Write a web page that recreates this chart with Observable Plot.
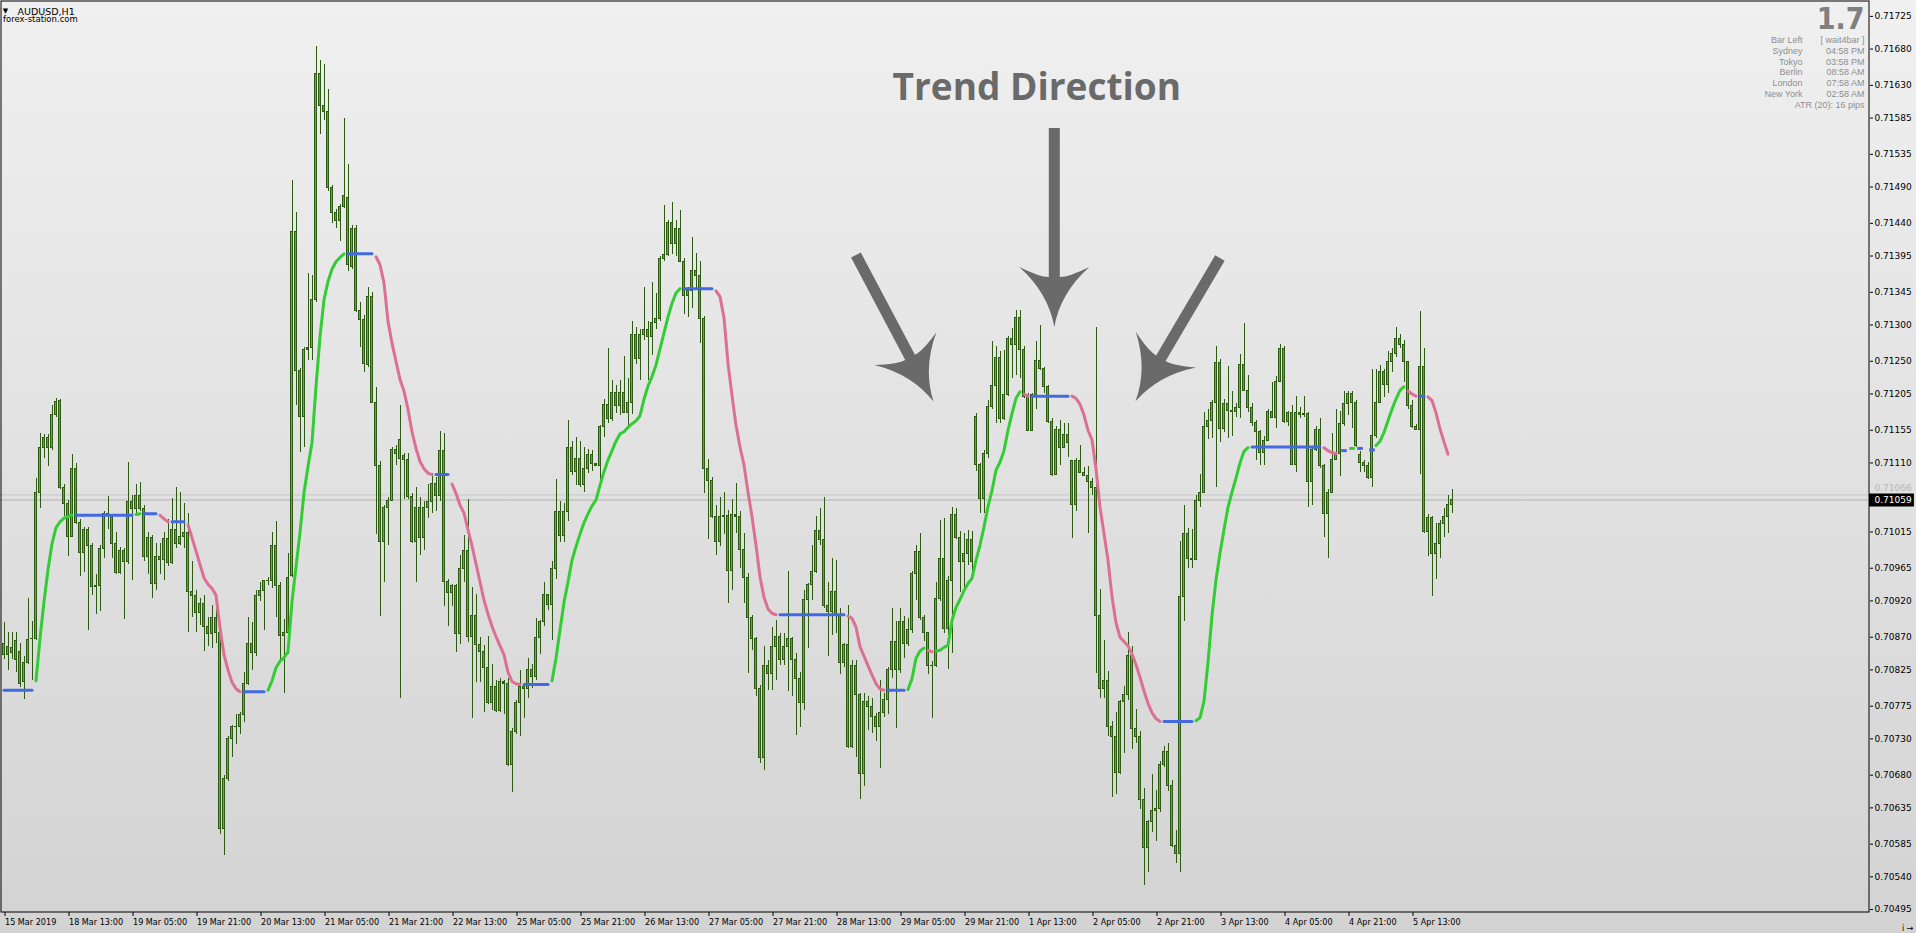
<!DOCTYPE html>
<html>
<head>
<meta charset="utf-8">
<script src="https://cdn.jsdelivr.net/npm/d3@7"></script>
<script src="https://cdn.jsdelivr.net/npm/@observablehq/plot@0.6"></script>
<style>
  html, body { margin:0; padding:0; }
  body { width:1916px; height:933px; overflow:hidden; background: linear-gradient(to bottom, #f0f0f0 0%, #d3d3d3 100%); }
  #chart svg { display:block; }
</style>
</head>
<body>
<div id="chart"></div>
<script>
// ---- DATA (prices stored as points above 0.70000, 1 point = 0.00001) ----
const opens = [
846,857,848,865,850,808,834,867,868,1069,
1131,1144,1131,1176,1196,1076,1054,1008,1102,1027,
986,1018,996,939,941,992,1040,1036,999,959,
989,974,1056,1047,1065,1047,981,1007,943,981,
976,1005,972,1018,999,1008,1014,932,927,903,
916,884,874,897,876,606,675,730,746,747,
763,806,861,848,927,934,947,948,996,940,
872,876,954,1428,1236,1173,1266,1268,1335,1645,
1601,1594,1488,1454,1443,1462,1475,1380,1432,1319,
1307,1245,1339,1193,1106,1001,1048,1058,1128,1116,
1120,1114,1063,1001,1048,1007,1048,1056,1081,1065,
1127,946,931,940,875,964,989,870,899,859,
849,827,780,802,769,808,806,694,740,780,
802,799,825,815,869,891,928,914,964,1043,
1010,1043,1131,1098,1116,1079,1102,1121,1108,1106,
1159,1190,1170,1207,1188,1207,1179,1193,1286,1253,
1286,1293,1284,1303,1308,1391,1397,1441,1411,1432,
1387,1340,1347,1375,1367,1308,1102,1085,1036,1001,
1036,1037,961,1038,1036,990,952,897,868,799,
704,831,820,857,871,839,857,867,839,812,
780,921,942,960,1016,1004,913,905,932,900,
834,859,719,831,790,682,781,774,760,746,
766,783,825,864,825,891,861,880,957,988,
897,876,831,830,923,978,882,948,1038,1007,
974,985,1004,1173,1107,1060,1123,1187,1216,1255,
1170,1203,1281,1272,1309,1266,1201,1154,1203,1250,
1240,1214,1166,1094,1156,1131,1149,1113,1052,1113,
1096,1092,1084,1075,899,799,810,746,733,683,
781,791,844,744,733,646,580,615,630,634,
694,712,665,583,572,926,1012,978,977,1057,
1069,1160,1168,1192,1247,1157,1191,1181,1180,1186,
1245,1209,1186,1165,1152,1124,1140,1180,1172,1222,
1267,1166,1179,1107,1179,1176,1177,1084,1128,1156,
1106,1040,1069,1114,1123,1163,1191,1205,1192,1121,
1110,1106,1089,1147,1193,1235,1217,1249,1260,1281,
1272,1249,1188,1160,1156,1242,1015,1034,985,999,
1026,1036,1052];
const highs = [
890,876,877,876,861,843,924,892,1088,1151,
1149,1149,1189,1199,1198,1080,1058,1122,1109,1032,
1021,1021,999,956,996,1043,1064,1036,1014,994,
992,1110,1065,1080,1083,1051,1014,1010,999,999,
1014,1032,1061,1076,1069,1054,1040,974,934,923,
928,897,914,908,886,679,733,748,763,766,
821,897,890,934,945,948,952,1014,1029,945,
894,985,1499,1455,1240,1269,1371,1368,1683,1664,
1659,1625,1492,1459,1466,1584,1521,1437,1437,1331,
1313,1352,1345,1214,1112,1051,1062,1131,1134,1189,
1123,1123,1068,1076,1062,1057,1081,1095,1090,1153,
1150,949,943,943,982,1010,1059,938,929,870,
858,871,833,810,813,810,813,744,783,824,
805,841,833,896,893,946,929,974,1087,1057,
1054,1168,1140,1145,1140,1131,1128,1127,1109,1162,
1198,1267,1223,1217,1224,1256,1227,1305,1297,1294,
1352,1305,1358,1343,1394,1465,1444,1469,1444,1458,
1391,1352,1420,1399,1388,1312,1115,1090,1051,1062,
1070,1045,1059,1082,1043,1013,958,900,870,804,
857,838,884,893,875,875,961,870,847,821,
935,944,997,1036,1047,1063,946,978,976,909,
861,914,838,838,792,792,788,786,765,811,
792,829,909,891,909,898,896,960,997,1013,
900,877,836,946,1031,1033,953,1049,1047,1015,
1013,1017,1015,1178,1109,1127,1196,1277,1270,1263,
1265,1284,1295,1320,1320,1270,1205,1205,1277,1300,
1242,1216,1171,1160,1169,1164,1164,1114,1116,1134,
1104,1105,1089,1296,936,865,823,754,767,783,
802,876,857,770,740,662,617,681,659,699,
720,723,673,604,1002,1052,1020,1018,1065,1094,
1179,1184,1196,1271,1252,1198,1243,1208,1192,1260,
1302,1231,1192,1168,1155,1147,1184,1221,1229,1273,
1270,1181,1189,1202,1186,1202,1180,1131,1160,1171,
1108,1073,1150,1184,1181,1208,1208,1209,1196,1126,
1114,1110,1239,1239,1244,1239,1263,1268,1296,1287,
1279,1250,1196,1163,1319,1267,1039,1036,1026,1031,
1047,1065,1073];
const lows = [
839,824,839,821,801,784,832,810,865,1047,
1116,1105,1127,1173,1074,1036,981,1007,1025,954,
959,879,927,901,905,978,1018,978,956,957,
894,970,948,1036,1043,974,956,923,934,956,
948,967,970,992,996,992,876,897,876,886,
850,857,854,861,599,569,671,704,722,736,
752,803,824,843,919,879,941,937,897,839,
792,846,952,1189,1125,1131,1251,1251,1331,1562,
1581,1484,1440,1433,1415,1460,1373,1377,1317,1269,
1234,1242,1192,1012,899,946,996,1057,1106,786,
1059,1059,999,946,982,990,1034,1040,1043,1057,
913,885,913,849,860,946,863,758,808,808,
766,777,769,766,766,763,692,656,736,733,
758,786,799,810,846,885,907,866,949,1001,
1001,1029,1093,1079,1076,1070,1095,1098,1105,1079,
1145,1164,1167,1178,1175,1178,1162,1177,1245,1223,
1278,1223,1258,1294,1305,1388,1394,1397,1394,1386,
1314,1311,1323,1350,1275,1068,1004,1034,982,995,
1012,916,935,1013,964,916,820,852,788,696,
687,797,797,811,831,831,795,788,735,746,
769,854,921,958,997,909,843,873,875,818,
829,717,717,705,646,664,742,737,726,689,
760,763,813,744,820,841,857,875,921,893,
864,818,758,829,919,875,825,847,1004,932,
937,969,948,1098,1040,1040,1116,1183,1165,1164,
1169,1201,1226,1231,1226,1199,1153,1153,1183,1238,
1205,1164,1091,1093,1107,1130,1118,1006,1043,1095,
1091,1013,1065,820,786,786,733,649,654,681,
710,783,715,723,633,528,546,601,588,628,
691,657,580,559,546,891,965,965,976,1049,
1068,1142,1144,1076,1138,1152,1144,1147,1173,1171,
1208,1179,1160,1113,1107,1106,1139,1171,1157,1221,
1165,1160,1106,1097,1171,1173,1049,1052,1126,1102,
1007,978,1068,1113,1092,1160,1176,1157,1131,1097,
1097,1087,1076,1144,1192,1200,1205,1234,1255,1268,
1221,1184,1157,1155,1094,1013,981,926,949,978,
1008,1013,1040];
const closes = [
861,846,855,838,806,835,866,868,1069,1131,
1144,1131,1176,1194,1076,1054,1008,1102,1027,986,
1018,996,939,941,992,1040,1037,999,959,989,
974,1056,1047,1065,1047,981,1007,943,981,976,
1005,972,1018,999,1008,1014,932,927,903,916,
884,874,897,876,606,675,730,746,747,763,
806,861,848,927,934,947,948,996,940,872,
876,952,1428,1236,1173,1266,1268,1335,1645,1601,
1594,1488,1454,1443,1462,1477,1382,1432,1319,1307,
1246,1339,1193,1106,1001,1048,1058,1128,1122,1142,
1114,1063,1001,1048,1007,1048,1056,1081,1065,1127,
946,931,940,875,964,989,870,899,859,849,
827,780,802,769,808,806,694,740,780,802,
799,825,815,869,891,928,914,964,1043,1010,
1043,1131,1098,1116,1079,1102,1121,1108,1106,1159,
1190,1170,1207,1188,1207,1179,1193,1286,1253,1286,
1293,1284,1303,1308,1391,1397,1441,1411,1432,1387,
1340,1347,1375,1367,1308,1102,1085,1036,1001,1036,
1037,961,1038,1036,990,952,897,868,799,704,
831,820,857,871,839,857,867,839,812,780,
921,942,960,1016,1004,913,905,932,900,834,
859,719,831,790,682,781,774,760,746,766,
783,825,864,825,891,861,880,957,988,897,
876,831,830,923,978,882,948,1038,1007,974,
985,1004,974,1107,1060,1123,1187,1216,1255,1170,
1203,1281,1272,1309,1266,1201,1154,1203,1250,1240,
1214,1166,1094,1156,1131,1149,1138,1052,1113,1096,
1092,1084,1075,899,799,810,746,733,683,781,
791,844,744,733,646,580,615,630,634,694,
712,665,583,572,926,1012,978,977,1057,1069,
1160,1168,1192,1247,1157,1191,1181,1180,1186,1245,
1209,1186,1165,1152,1124,1140,1180,1172,1222,1267,
1166,1179,1107,1179,1176,1177,1084,1128,1156,1106,
1040,1069,1114,1123,1163,1191,1205,1192,1133,1110,
1106,1089,1147,1193,1235,1217,1249,1260,1281,1272,
1249,1188,1160,1156,1242,1015,1034,985,999,1026,
1036,1052,1059];

// Trend Direction indicator: [state, first bar, values]  U = up (green), D = down (pink), F = flat (blue)
const trendSegments = [
  ["F", 0, [797,797,797,797,797,797,797,797]],
  ["U", 8, [810,868,919,963,999,1021,1029,1034,1036,1038]],
  ["F", 18, [1038,1038,1038,1038,1038,1038,1038,1038,1038,1038,1038,1038,1038,1038,1038]],
  ["U", 33, [1039,1040]],
  ["F", 35, [1040,1040,1040,1040]],
  ["D", 39, [1038,1033,1029]],
  ["F", 42, [1029,1029,1029,1029]],
  ["D", 46, [1025,1007,989,970,952,943,937,928,883,846,825,808,799,795]],
  ["F", 60, [795,795,795,795,795,795]],
  ["U", 66, [797,810,828,837,842,850,919,967,1014,1069,1105,1138,1215,1284,1335,1360,1377,1387,1393,1398]],
  ["F", 86, [1398,1398,1398,1398,1398,1398,1398]],
  ["D", 93, [1394,1383,1358,1305,1275,1250,1225,1209,1184,1153,1130,1112,1102,1096,1094]],
  ["F", 108, [1094,1094,1094,1094]],
  ["D", 112, [1081,1068,1052,1041,1018,996,971,946,921,902,885,871,858,846,822,809,806,805]],
  ["F", 130, [805,805,805,805,805,805,805]],
  ["U", 137, [810,841,880,918,946,976,995,1012,1028,1040,1051,1059,1079,1098,1114,1127,1140,1150,1153,1159,1164,1168,1175,1198,1216,1229,1245,1267,1289,1311,1330,1344,1350]],
  ["F", 170, [1350,1350,1350,1350,1350,1350,1350,1350]],
  ["D", 178, [1347,1339,1310,1247,1203,1162,1132,1107,1070,1036,997,953,925,909,903,901]],
  ["F", 194, [901,901,901,901,901,901,901,901,901,901,901,901,901,901,901,901,901]],
  ["D", 211, [899,896,884,857,844,831,818,806,799,797]],
  ["F", 221, [797,797,797,797,797]],
  ["U", 226, [798,813,841,851,855]],
  ["D", 231, [852,850]],
  ["U", 233, [851,852,856,859,893,911,922,934,944,951,976,997,1022,1050,1072,1100,1111,1127,1155,1178,1199,1208]],
  ["D", 255, [1205,1202]],
  ["F", 257, [1202,1202,1202,1202,1202,1202,1202,1202,1202,1202]],
  ["D", 267, [1202,1199,1191,1176,1155,1142,1102,1049,1013,976,926,890,870,864,858,847,832,815,796,779,766,758,754]],
  ["F", 290, [754,754,754,754,754,754,754,754]],
  ["U", 298, [755,759,782,835,900,949,986,1018,1049,1070,1089,1110,1126,1131]],
  ["F", 312, [1132,1132,1132,1132,1132,1132,1132,1132,1132,1132,1132,1132,1132,1132,1132,1132,1132,1132]],
  ["D", 330, [1131,1127,1124,1123]],
  ["F", 335, [1127]],
  ["U", 337, [1130]],
  ["F", 339, [1130]],
  ["F", 342, [1128]],
  ["U", 343, [1134,1140,1152,1168,1184,1198,1210,1215]],
  ["D", 351, [1209,1205,1202]],
  ["F", 354, [1202,1202]],
  ["D", 356, [1201,1196,1179,1157,1139,1122]]
];

const priceTicks = [0.71725,0.71680,0.71630,0.71585,0.71535,0.71490,0.71440,0.71395,0.71345,0.71300,0.71250,0.71205,0.71155,0.71110,
                    0.71015,0.70965,0.70920,0.70870,0.70825,0.70775,0.70730,0.70680,0.70635,0.70585,0.70540,0.70495];
const timeTickBars = [0,16,32,48,64,80,96,112,128,144,160,176,192,208,224,240,256,272,288,304,320,336,352];
const timeTickLabels = ["15 Mar 2019","18 Mar 13:00","19 Mar 05:00","19 Mar 21:00","20 Mar 13:00","21 Mar 05:00","21 Mar 21:00",
  "22 Mar 13:00","25 Mar 05:00","25 Mar 21:00","26 Mar 13:00","27 Mar 05:00","27 Mar 21:00","28 Mar 13:00","29 Mar 05:00",
  "29 Mar 21:00","1 Apr 13:00","2 Apr 05:00","2 Apr 21:00","3 Apr 13:00","4 Apr 05:00","4 Apr 21:00","5 Apr 13:00"];
const bidPrice = 0.71059, askPrice = 0.71066;
const symbolLabel = "AUDUSD,H1";
const siteLabel = "forex-station.com";
const spreadValue = "1.7";
const infoLabels = ["Bar Left","Sydney","Tokyo","Berlin","London","New York"];
const infoValues = ["[ wait4bar ]","04:58 PM","03:58 PM","08:58 AM","07:58 AM","02:58 AM"];
const atrLabel = "ATR (20): 16 pips";
const annotationTitle = "Trend Direction";
// arrows: tail and tip in (bar, price)
const arrows = [
  {tailBar: 213.1, tailPrice: 0.713957, tipBar: 232.5, tipPrice: 0.711939},
  {tailBar: 262.7, tailPrice: 0.715706, tipBar: 262.7, tipPrice: 0.712966},
  {tailBar: 304.1, tailPrice: 0.713916, tipBar: 283.0, tipPrice: 0.711942}
];

// ---- BUILD ----
const base = 0.7, unit = 1e5;
const bars = opens.map((o, i) => {
  const O = base + o / unit, C = base + closes[i] / unit;
  const Hh = Math.max(base + highs[i] / unit, O, C), Ll = Math.min(base + lows[i] / unit, O, C);
  return {i, o: O, h: Hh, l: Ll, c: C, up: C >= O};
});
const trendRows = [];
trendSegments.forEach(([state, start, vals], s) =>
  vals.forEach((v, k) => trendRows.push({i: start + k, p: base + v / unit, state, seg: s, n: vals.length})));
const trendColors = {U: "#32cd32", D: "#db7093", F: "#4169e1"};
const tickLabelMap = new Map(timeTickBars.map((b, k) => [b, timeTickLabels[k]]));

const outline = "#2c5a12", bullFill = "#32cd32", bearFill = "#e0663f";
const annotGray = "#6a6a6a", infoGray = "#8e8e8e";
const pxPerPrice = 912 / (0.717469 - 0.704909);

function arrowMark(index, scales) {
  try {
    const sx = scales.x, sy = scales.y;
    const g = document.createElementNS("http://www.w3.org/2000/svg", "g");
    const shaft = 5.5, headLen = 60, headHalf = 35, notch = 50;
    for (const a of arrows) {
      const x0 = sx(a.tailBar), y0 = sy(a.tailPrice), x1 = sx(a.tipBar), y1 = sy(a.tipPrice);
      const len = Math.hypot(x1 - x0, y1 - y0), ux = (x1 - x0) / len, uy = (y1 - y0) / len, nx = -uy, ny = ux;
      const P = (u, w) => `${(x1 + u * ux + w * nx).toFixed(2)},${(y1 + u * uy + w * ny).toFixed(2)}`;
      const d = `M${P(0,0)} Q${P(-34,6)} ${P(-headLen,headHalf)} Q${P(-notch,15)} ${P(-notch,shaft)} L${P(-len,shaft)} L${P(-len,-shaft)} L${P(-notch,-shaft)} Q${P(-notch,-15)} ${P(-headLen,-headHalf)} Q${P(-34,-6)} ${P(0,0)} Z`;
      const path = document.createElementNS("http://www.w3.org/2000/svg", "path");
      path.setAttribute("d", d);
      path.setAttribute("fill", annotGray);
      g.appendChild(path);
    }
    return g;
  } catch (e) { return null; }
}

const chart = Plot.plot({
  width: 1916, height: 933,
  marginLeft: 0, marginRight: 47, marginTop: 0, marginBottom: 21,
  x: {domain: [-0.875, 466.375], axis: null},
  y: {domain: [0.704909, 0.717469], axis: null},
  style: {background: "transparent", fontFamily: "DejaVu Sans", fontSize: "9px", color: "#000", overflow: "visible"},
  marks: [
    Plot.ruleY([askPrice], {stroke: "#c6c6c6", strokeWidth: 1}),
    Plot.ruleY([bidPrice], {stroke: "#b2b2b2", strokeWidth: 1}),
    Plot.ruleX(bars, {x: "i", y1: "l", y2: "h", stroke: outline, strokeWidth: 1, shapeRendering: "crispEdges"}),
    Plot.rect(bars, {x1: d => d.i - 0.375, x2: d => d.i + 0.375, y1: "o", y2: "c", fill: outline, insetTop: -0.5, insetBottom: -0.5, shapeRendering: "crispEdges"}),
    Plot.rect(bars.filter(d => d.up && Math.abs(d.o - d.c) * pxPerPrice > 2), {x1: d => d.i - 0.375, x2: d => d.i + 0.375, y1: "o", y2: "c", fill: bullFill, insetLeft: 1, insetRight: 1, insetTop: 0.5, insetBottom: 0.5, shapeRendering: "crispEdges"}),
    Plot.rect(bars.filter(d => !d.up && Math.abs(d.o - d.c) * pxPerPrice > 2), {x1: d => d.i - 0.375, x2: d => d.i + 0.375, y1: "o", y2: "c", fill: bearFill, insetLeft: 1, insetRight: 1, insetTop: 0.5, insetBottom: 0.5, shapeRendering: "crispEdges"}),
    ...["F", "U", "D"].map(st => Plot.line(trendRows.filter(d => d.state === st && d.n > 1), {x: "i", y: "p", z: "seg", stroke: trendColors[st], strokeWidth: 3})),
    ...["F", "U", "D"].map(st => Plot.link(trendRows.filter(d => d.state === st && d.n === 1), {x1: d => d.i - 0.7, x2: d => d.i + 0.7, y1: "p", y2: "p", stroke: trendColors[st], strokeWidth: 3})),
    arrowMark,
    Plot.text([annotationTitle], {x: 258.2, y: 0.716101, text: d => d, textAnchor: "middle", lineAnchor: "bottom", fontFamily: "Open Sans", fontWeight: "bold", fontSize: 37, fill: annotGray}),
    Plot.frame({stroke: "#000", insetLeft: 0.5, insetTop: 0.5, insetRight: 0.5, insetBottom: 0.5}),
    Plot.axisY(priceTicks, {anchor: "right", tickSize: 3, tickPadding: 2, tickFormat: d => d.toFixed(5), fontFamily: "DejaVu Sans", fontSize: 9}),
    Plot.axisX(timeTickBars, {anchor: "bottom", tickSize: 4, tickPadding: 2, tickFormat: d => tickLabelMap.get(d), textAnchor: "start", dx: 1, fontFamily: "DejaVu Sans Condensed, DejaVu Sans, sans-serif", fontSize: 9}),
    Plot.text([askPrice], {y: d => d, frameAnchor: "right", dx: 5, dy: -7, text: d => d.toFixed(5), textAnchor: "start", fill: "#b4b4b4", fontFamily: "DejaVu Sans", fontSize: 9}),
    Plot.ruleY([bidPrice], {x1: 466.375, x2: 477.6, stroke: "#000", strokeWidth: 13}),
    Plot.text([bidPrice], {y: d => d, frameAnchor: "right", dx: 5, text: d => d.toFixed(5), textAnchor: "start", fill: "#fff", fontFamily: "DejaVu Sans", fontSize: 9}),
    Plot.text(["\u25BC"], {frameAnchor: "top-left", dx: 5, dy: 12.5, text: d => d, textAnchor: "middle", lineAnchor: "bottom", fontSize: 7, fill: "#000"}),
    Plot.text([symbolLabel], {frameAnchor: "top-left", dx: 17, dy: 14.3, text: d => d, textAnchor: "start", lineAnchor: "bottom", fontFamily: "DejaVu Sans", fontSize: 9.5, fill: "#000"}),
    Plot.text([siteLabel], {frameAnchor: "top-left", dx: 2.5, dy: 21.5, text: d => d, textAnchor: "start", lineAnchor: "bottom", fontFamily: "DejaVu Sans", fontSize: 8.5, fill: "#000"}),
    Plot.text([spreadValue], {frameAnchor: "top-right", dx: -5, dy: 28, text: d => d, textAnchor: "end", lineAnchor: "bottom", fontFamily: "Liberation Sans Narrow, DejaVu Sans Condensed, sans-serif", fontWeight: "bold", fontSize: 30, fill: "#808080"}),
    ...infoLabels.map((t, k) => Plot.text([t], {frameAnchor: "top-right", dx: -67, dy: 42.5 + 10.8 * k, text: d => d, textAnchor: "end", lineAnchor: "bottom", fontFamily: "Liberation Sans, Arial, sans-serif", fontSize: 9, fill: infoGray})),
    ...infoValues.map((t, k) => Plot.text([t], {frameAnchor: "top-right", dx: -5, dy: 42.5 + 10.8 * k, text: d => d, textAnchor: "end", lineAnchor: "bottom", fontFamily: "Liberation Sans, Arial, sans-serif", fontSize: 9, fill: infoGray})),
    Plot.text([atrLabel], {frameAnchor: "top-right", dx: -5, dy: 42.5 + 10.8 * 6, text: d => d, textAnchor: "end", lineAnchor: "bottom", fontFamily: "Liberation Sans, Arial, sans-serif", fontSize: 9, fill: infoGray})
  ]
});
document.getElementById("chart").appendChild(chart);
</script>
</body>
</html>
